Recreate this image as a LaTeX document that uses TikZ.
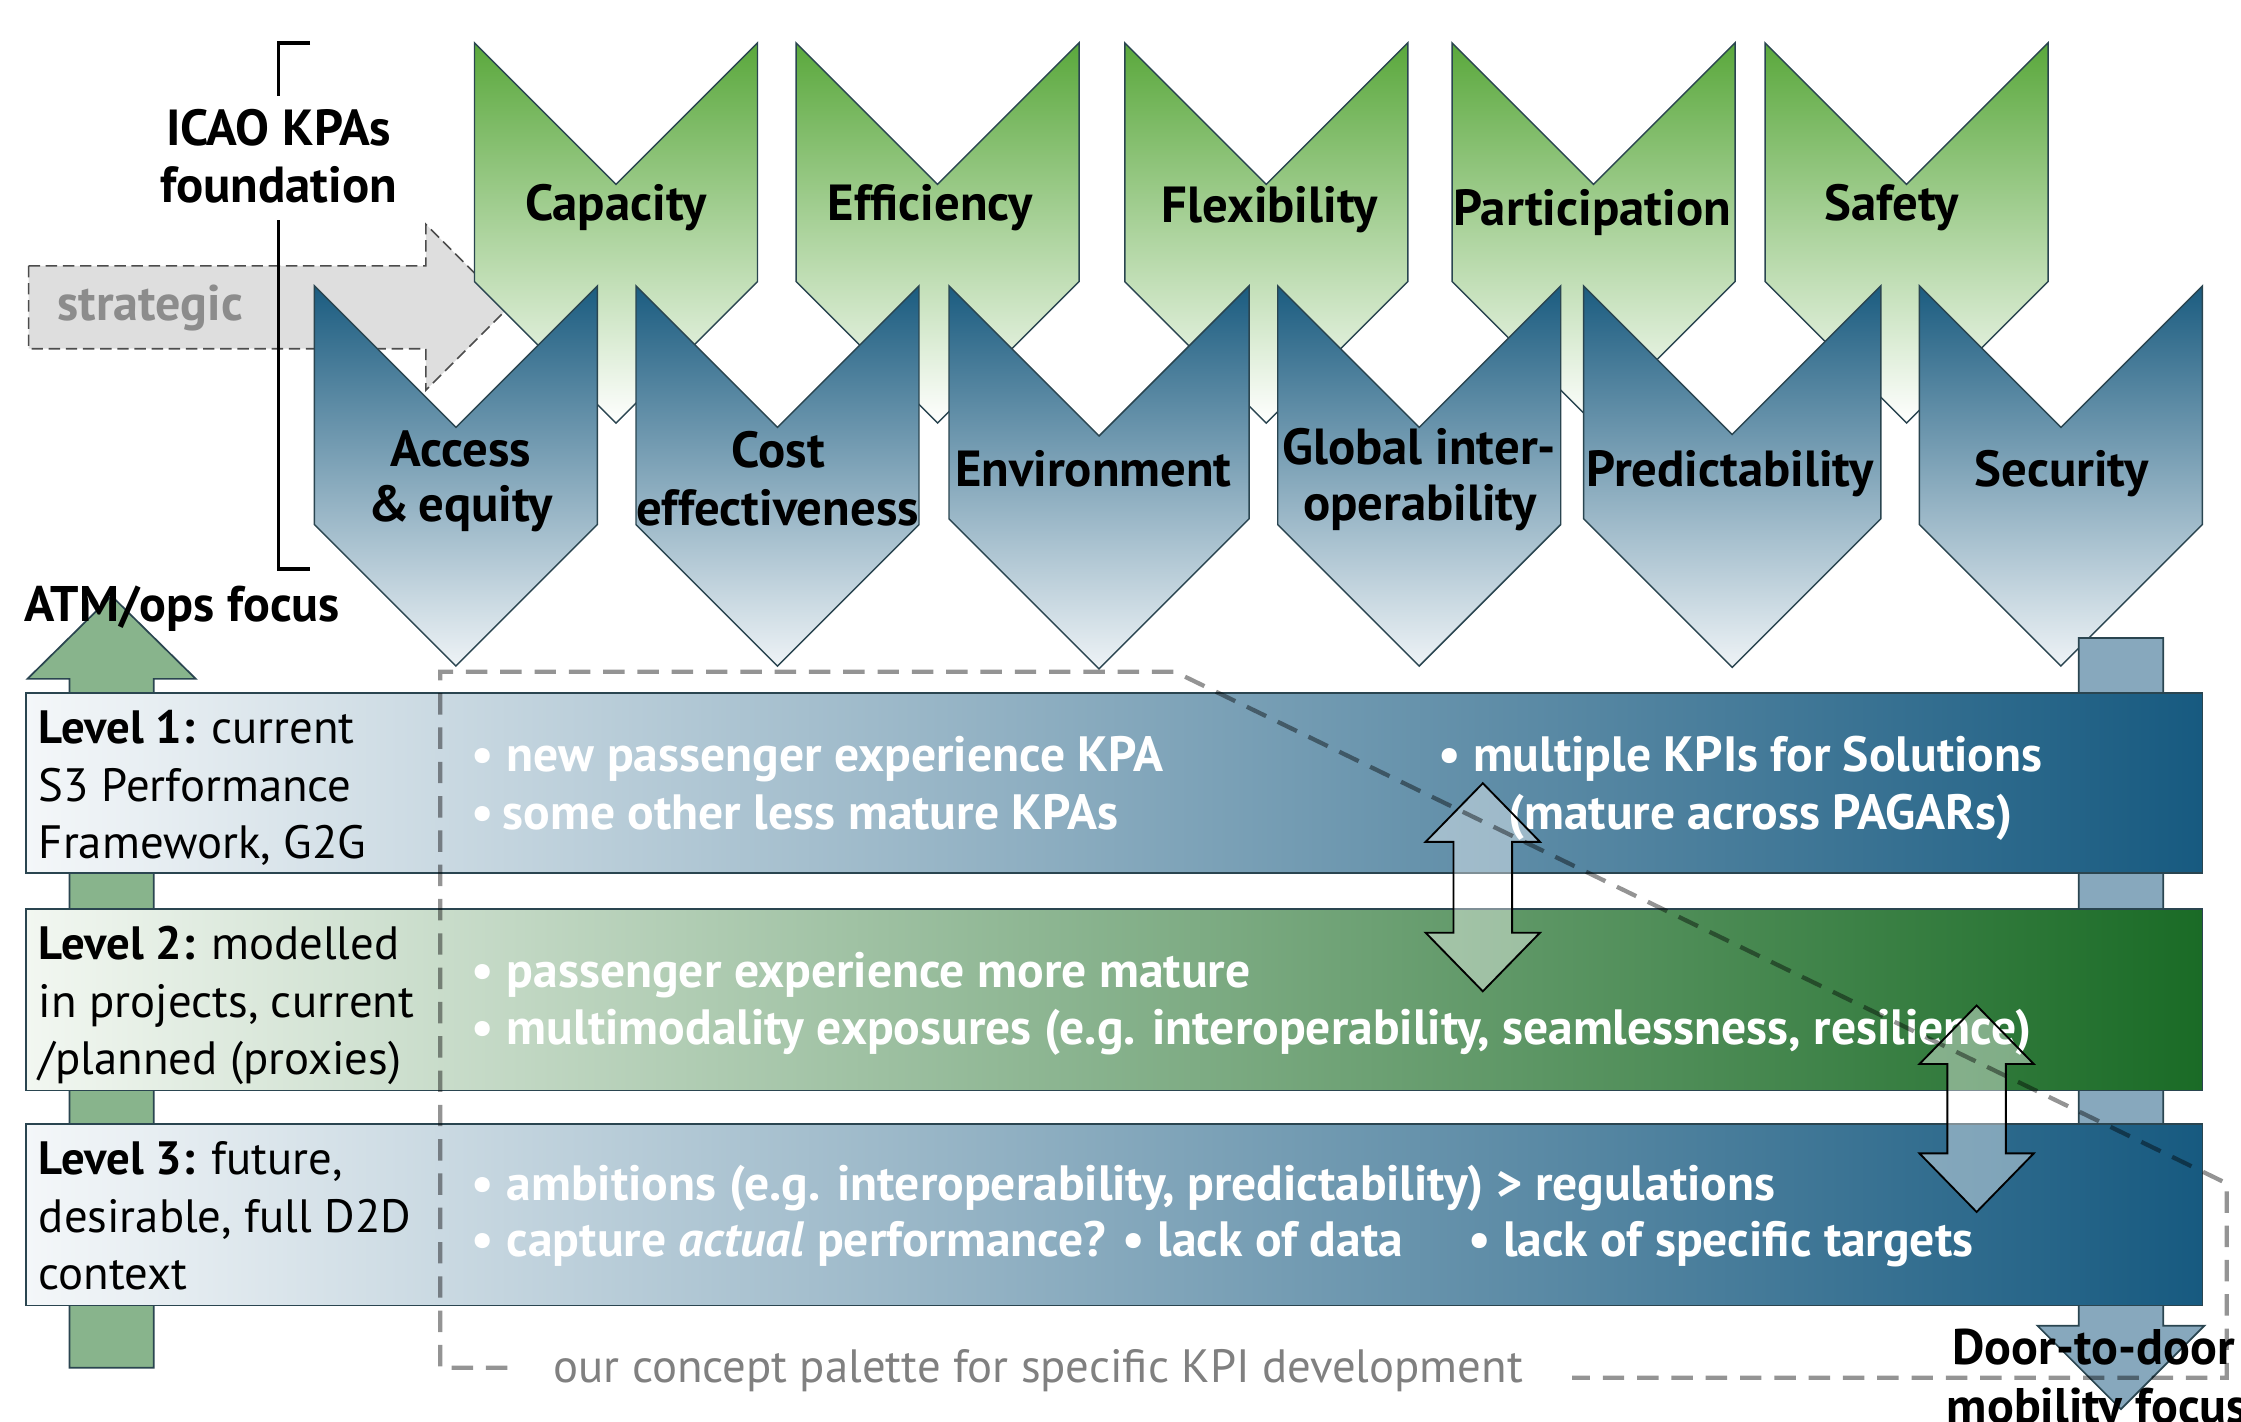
\documentclass[tikz,border=0pt]{standalone}
\usepackage{fontspec}
\setmainfont{PT Sans}
\begin{document}
\definecolor{grnTop}{HTML}{5AA83C}
\definecolor{bluTop}{HTML}{1B5C80}
\definecolor{bluMid}{HTML}{7EA5BB}
\definecolor{bluBot}{HTML}{EEF3F6}
\definecolor{boxL}{HTML}{F4F7F9}
\definecolor{boxBlueR}{HTML}{175A80}
\definecolor{boxGreenL}{HTML}{F2F7F1}
\definecolor{boxGreenR}{HTML}{1A6B26}
\definecolor{edgeC}{HTML}{2A4550}
\definecolor{atmG}{HTML}{88B48C}
\definecolor{d2dB}{HTML}{87A8BD}
\definecolor{stratG}{HTML}{DEDEDE}
\definecolor{stratT}{HTML}{8C8C8C}
\definecolor{conceptT}{HTML}{808080}
\begin{tikzpicture}[x=1pt,y=-1pt,
  greenchev/.style={top color=grnTop, bottom color=white, draw=edgeC, line width=1},
  bluechev/.style={top color=bluTop, middle color=bluMid, bottom color=bluBot, draw=edgeC, line width=1},
  kpa/.style={font=\bfseries\fontsize{35.5}{40}\selectfont, inner sep=0, anchor=base},
  lvl/.style={font=\fontsize{32.7}{38}\selectfont, inner sep=0, anchor=base west},
  bul/.style={font=\bfseries\fontsize{34.7}{40}\selectfont, text=white, inner sep=0, anchor=base west},
  focus/.style={font=\bfseries\fontsize{35}{40}\selectfont, inner sep=0, anchor=base west},
  lvlbox/.style={draw=edgeC, line width=1.2},
  dblarrow/.style={fill=white, fill opacity=0.4, draw=black, line width=1.3},
  palette/.style={draw=black, draw opacity=0.42, line width=3, dash pattern=on 15 off 9},
  bigarrow/.style={draw=edgeC, line width=1.2}
]
\useasboundingbox (0,0) rectangle (1568,994.3);

% strategic arrow
\filldraw[fill=stratG, draw=black!70, line width=1.1, dash pattern=on 8 off 4]
  (20,186) -- (298,186) -- (298,157) -- (356,215) -- (298,273) -- (298,244) -- (20,244) -- cycle;
\node[font=\bfseries\fontsize{35}{40}\selectfont, text=stratT, inner sep=0, anchor=base] (strat) at (105,224) {strategic};

% bracket
\draw[line width=2.5] (217,30) -- (195,30) -- (195,67);
\draw[line width=2.5] (195,154) -- (195,398) -- (217,398);
\node[kpa] (icao1) at (195,101.5) {ICAO KPAs};
\node[kpa] (icao2) at (195,142) {foundation};

% chevron macro: left, top, width, side height, style
\newcommand\chevron[5]{%
  \shadedraw[#5] (#1,#2) -- ++(#3/2,#3/2) -- ++(#3/2,-#3/2) -- ++(0,#4) -- ++(-#3/2,#3/2) -- ++(-#3/2,-#3/2) -- cycle;}

% green chevrons
\chevron{332}{30}{198}{167}{greenchev}
\chevron{557}{30}{198}{167}{greenchev}
\chevron{787}{30}{198}{167}{greenchev}
\chevron{1016}{30}{198}{167}{greenchev}
\chevron{1235}{30}{198}{167}{greenchev}

% blue chevrons
\chevron{220}{200}{198}{167}{bluechev}
\chevron{445}{200}{198}{167}{bluechev}
\chevron{664}{200}{210}{163}{bluechev}
\chevron{894}{200}{198}{167}{bluechev}
\chevron{1108}{200}{208}{163}{bluechev}
\chevron{1343}{200}{198}{167}{bluechev}

% chevron labels
\node[kpa] (capacity) at (431,154.6) {Capacity};
\node[kpa] (efficiency) at (651,154) {Efficiency};
\node[kpa] (flexibility) at (888.5,156) {Flexibility};
\node[kpa] (participation) at (1114,157.7) {Participation};
\node[kpa] (safety) at (1323.5,154) {Safety};
\node[kpa] (access1) at (322.5,326.5) {Access};
\node[kpa] (access2) at (322.5,365) {\&\,equity};
\node[kpa] (cost1) at (544.5,327) {Cost};
\node[kpa] (cost2) at (544,368) {effectiveness};
\node[kpa] (environment) at (765,340.5) {Environment};
\node[kpa] (global1) at (993,324.8) {Global inter-};
\node[kpa] (global2) at (993.5,364) {operability};
\node[kpa] (predictability) at (1210.5,340.5) {Predictability};
\node[kpa] (security) at (1442.5,340.5) {Security};

% ATM/ops up arrow
\filldraw[fill=atmG, bigarrow] (78.1,417) -- (137,475) -- (107.6,475) -- (107.6,957) -- (48.7,957) -- (48.7,475) -- (19.2,475) -- cycle;
% door-to-door down arrow
\filldraw[fill=d2dB, bigarrow] (1454.5,446.4) -- (1513.6,446.4) -- (1513.6,927.6) -- (1542.4,927.6) -- (1484,986) -- (1425.6,927.6) -- (1454.5,927.6) -- cycle;

% level boxes
\shadedraw[lvlbox, left color=boxL, right color=boxBlueR] (18,485) rectangle (1541,611);
\shadedraw[lvlbox, left color=boxGreenL, right color=boxGreenR] (18,636) rectangle (1541,763);
\shadedraw[lvlbox, left color=boxL, right color=boxBlueR] (18,786.5) rectangle (1541,913.4);

% level labels
\node[lvl] (l1a) at (27,520) {\textbf{Level 1:} current};
\node[lvl] (l1b) at (27,560.5) {S3 Performance};
\node[lvl] (l1c) at (27,600.5) {Framework, G2G};
\node[lvl] (l2a) at (27,671.5) {\textbf{Level 2:} modelled};
\node[lvl] (l2b) at (27,712) {in projects, current};
\node[lvl] (l2c) at (27,752) {/planned (proxies)};
\node[lvl] (l3a) at (27,821.5) {\textbf{Level 3:} future,};
\node[lvl] (l3b) at (27,862) {desirable, full D2D};
\node[lvl] (l3c) at (27,902) {context};

% bullets
\node[bul] (b1a) at (330,539.5) {• new passenger experience KPA};
\node[bul] (b1b) at (330,580.5) {•\,some other less mature KPAs};
\node[bul] (b1c) at (1006,539.5) {• multiple KPIs for Solutions};
\node[bul] (b1d) at (1055,580.5) {(mature across PAGARs)};
\node[bul] (b2a) at (330,691) {• passenger experience more mature};
\node[bul] (b2b) at (330,730.5) {• multimodality exposures (e.g. interoperability, seamlessness, resilience)};
\node[bul] (b3a) at (330,840) {• ambitions (e.g. interoperability, predictability) > regulations};
\node[bul] (b3b) at (330,879) {• capture \textit{actual} performance? • lack of data};
\node[bul] (b3c) at (1027,879) {• lack of specific targets};

% double arrows: cx, top apex, bottom apex
\newcommand\dblarr[3]{%
  \filldraw[dblarrow] (#1,#2) -- ++(40,41) -- ++(-19.5,0) -- (#1+20.5,#3-41) -- ++(19.5,0) -- (#1,#3) -- ++(-40,-41) -- ++(19.5,0) -- (#1-20.5,#2+41) -- ++(-19.5,0) -- cycle;}
\dblarr{1037.5}{548}{693.6}
\dblarr{1383}{703.5}{848}

% concept palette outline
\coordinate (pA) at (355,957);
\coordinate (pB) at (308,957);
\coordinate (pC) at (308,470);
\coordinate (pD) at (822,470);
\coordinate (pE) at (1558,828);
\coordinate (pF) at (1558,964);
\coordinate (pG) at (1100,964);
\draw[palette] (pA) -- (pB) -- (pC) -- (pD) -- (pE) -- (pF) -- (pG);
\node[font=\fontsize{32.7}{38}\selectfont, text=conceptT, inner sep=0, anchor=base west] (concept) at (387,967) {our concept palette for specific KPI development};

% focus labels
\node[focus] (atm) at (17,435) {ATM/ops focus};
\node[focus] (d2d1) at (1366,955) {Door-to-door};
\node[focus] (d2d2) at (1362,996) {mobility focus};
\end{tikzpicture}
\end{document}
